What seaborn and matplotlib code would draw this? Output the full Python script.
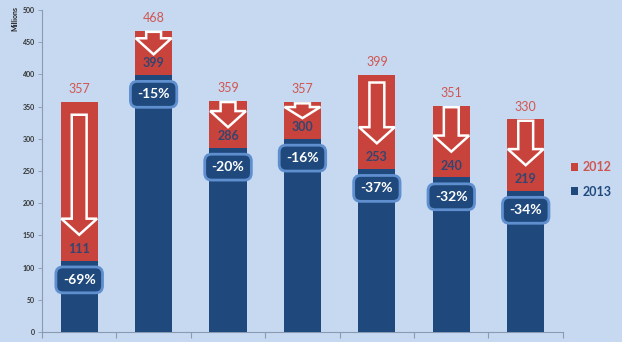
import numpy as np
import pandas as pd
import seaborn as sns
import matplotlib.pyplot as plt
from matplotlib.patches import FancyArrow, Patch

# Values in millions for the seven groups
groups = ["G1", "G2", "G3", "G4", "G5", "G6", "G7"]
values_2012 = [357, 468, 359, 357, 399, 351, 330]
values_2013 = [111, 399, 286, 300, 253, 240, 219]
change_labels = ["-69%", "-15%", "-20%", "-16%", "-37%", "-32%", "-34%"]
y_ticks = [0, 50, 100, 150, 200, 250, 300, 350, 400, 450, 500]

RED = "#c8433c"
BLUE = "#1f497d"
BG = "#c6d9f1"
RED_TEXT = "#d05651"
BLUE_TEXT = "#34456f"

df = pd.DataFrame({"group": groups, "y2012": values_2012, "y2013": values_2013})

sns.set_theme(style="white")
plt.rcParams["font.family"] = ["Lato", "DejaVu Sans"]

fig = plt.figure(figsize=(6.22, 3.42), dpi=100, facecolor=BG)
ax = fig.add_axes([0.0675, 0.029, 0.8375, 0.942])
ax.set_facecolor(BG)

sns.barplot(data=df, x="group", y="y2012", color=RED, width=0.5,
            saturation=1, linewidth=0, ax=ax, zorder=2)
sns.barplot(data=df, x="group", y="y2013", color=BLUE, width=0.5,
            saturation=1, linewidth=0, ax=ax, zorder=3)

for i, (r, b, pct) in enumerate(zip(values_2012, values_2013, change_labels)):
    diff = r - b
    # hollow downward arrow showing the drop
    start = r - 0.08 * diff if diff > 120 else r - 2
    end = b + (40 if diff > 100 else 32)
    arr = FancyArrow(i, start, 0, end - start, width=0.2, head_width=0.48,
                     head_length=min(25, 0.75 * (start - end)),
                     length_includes_head=True,
                     facecolor=RED, edgecolor="white", linewidth=1.8, zorder=4)
    ax.add_patch(arr)
    ax.text(i, r + 20, str(r), ha="center", va="center", color=RED_TEXT,
            fontsize=9, zorder=5)
    ax.text(i, b + 18, str(b), ha="center", va="center", color=BLUE_TEXT,
            fontsize=9, fontweight="bold", zorder=5)
    ax.text(i, b - 30, pct, ha="center", va="center", color="white",
            fontsize=10, fontweight="bold", zorder=6,
            bbox=dict(boxstyle="round,pad=0.5,rounding_size=0.5",
                      facecolor=BLUE, edgecolor="#5f8fcf", linewidth=2))

ax.set_xlim(-0.5, len(groups) - 0.5)
ax.set_ylim(0, 500)
ax.set_yticks(y_ticks)
ax.set_yticklabels([str(t) for t in y_ticks], fontsize=5, fontweight="bold",
                   color="#333333")
ax.set_xticks(np.arange(-0.5, len(groups) + 0.5, 1))
ax.set_xticklabels([])
ax.tick_params(axis="x", direction="out", length=4, color="#8a9ab0", width=0.8,
               bottom=True)
ax.tick_params(axis="y", direction="out", length=3, color="#8a9ab0", width=0.6,
               left=True, pad=2)
ax.set_xlabel("")
ax.set_ylabel("")
for side in ["top", "right"]:
    ax.spines[side].set_visible(False)
for side in ["left", "bottom"]:
    ax.spines[side].set_color("#8a9ab0")
    ax.spines[side].set_linewidth(0.8)

fig.text(0.024, 0.945, "Millions", rotation=90, ha="center", va="center",
         fontsize=5, fontweight="bold", color="#222222")

handles = [Patch(facecolor=RED, edgecolor="none"),
           Patch(facecolor=BLUE, edgecolor="none")]
leg = fig.legend(handles, ["2012", "2013"], loc="center left",
                 bbox_to_anchor=(0.918, 0.475), frameon=False, fontsize=9,
                 handlelength=0.6, handleheight=0.6, handletextpad=0.35,
                 labelspacing=1.0, borderpad=0, borderaxespad=0)
leg.get_texts()[0].set_color(RED_TEXT)
leg.get_texts()[1].set_color(BLUE)
for t in leg.get_texts():
    t.set_fontweight("bold")

fig.savefig("out.png", dpi=100, facecolor=BG)
